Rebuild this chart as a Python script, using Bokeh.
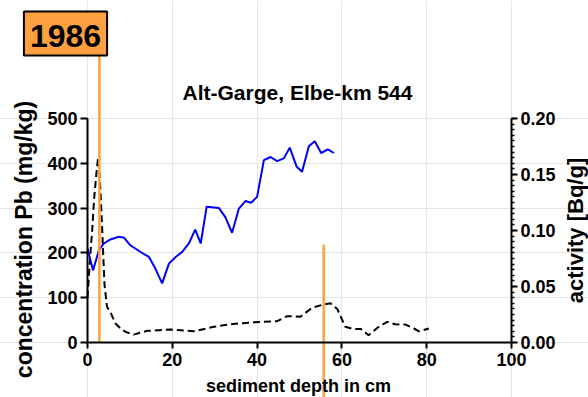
import math
from bokeh.plotting import figure
from bokeh.models import (Range1d, LinearAxis, FixedTicker, SingleIntervalTicker,
                          NumeralTickFormatter, Label)
from bokeh.embed import file_html
from bokeh.resources import INLINE

# ---- data ----
depth_pb = [0, 1.3, 2.7, 3.85, 5.4, 7.4, 8.6, 10.1, 12.5, 14.5,
            16, 17.6, 19.2, 20.8, 22.3, 23.9, 25.4, 26.7, 28.1, 31,
            32.5, 34.1, 35.7, 37.3, 38.6, 40, 41.6, 43.2, 44.7, 46.3,
            47.7, 49.3, 50.6, 52.2, 53.6, 55.1, 56.7, 58.1]
pb = [210, 161, 206, 221, 230, 236, 234, 217, 202, 191,
      165, 132, 176, 191, 202, 221, 252, 221, 303, 300,
      280, 245, 299, 316, 312, 325, 407, 414, 405, 411,
      435, 393, 381, 438, 449, 423, 431, 423]

depth_act = [0, 0.6, 1.1, 1.6, 2.1, 2.5, 3.0, 3.5, 4.0, 4.6,
             5.4, 6.6, 7.8, 9.0, 10.9, 14, 19.6, 25.1, 29.8, 33.7,
             39.2, 44.7, 47.1, 50.2, 53, 55.7, 57.3, 58.9, 60.8, 62.8,
             64.5, 66.3, 68.7, 70.7, 72.6, 75, 77, 78.2, 80.5]
activity = [0.040, 0.075, 0.100, 0.130, 0.151, 0.165, 0.140, 0.098, 0.052, 0.032,
            0.027, 0.017, 0.0125, 0.0095, 0.007, 0.0104, 0.0116, 0.010, 0.014, 0.0163,
            0.018, 0.019, 0.0235, 0.023, 0.031, 0.034, 0.035, 0.030, 0.014, 0.012,
            0.012, 0.0065, 0.014, 0.0184, 0.0163, 0.016, 0.0125, 0.010, 0.0125]

x_ticks = [0, 20, 40, 60, 80, 100]
pb_ticks = [0, 100, 200, 300, 400, 500]

marker_depth = [2.8, 55.7]      # orange marker lines (cm)
marker_top = [640, 219]         # in Pb-axis units
marker_bottom = [0, -125]

year_label = "1986"
title_text = "Alt-Garge, Elbe-km 544"
x_label = "sediment depth in cm"
y_label = "concentration Pb (mg/kg)"
y2_label = "activity [Bq/g]"

FONT = "Liberation Sans"
ORANGE = "#FFA040"

# ---- layout (pixels) ----
W, H = 588, 397
X0_PX, X1_PX = 87, 511      # pixel of depth 0 and 100
Y0_PX, Y1_PX = 342, 118     # pixel of Pb 0 and 500
X_MAX, Y_MAX, A_MAX = 100, 500, 0.2

xs = X_MAX / (X1_PX - X0_PX)
ys = Y_MAX / (Y0_PX - Y1_PX)
as_ = A_MAX / (Y0_PX - Y1_PX)

def dx(px):
    return (px - X0_PX) * xs

def dy(py):
    return (Y0_PX - py) * ys

p = figure(width=W, height=H, output_backend="svg", toolbar_location=None,
           title=None, x_axis_location=None, y_axis_location=None,
           x_range=Range1d(dx(0), dx(W)), y_range=Range1d(dy(H), dy(0)),
           min_border=0, min_border_left=0, min_border_right=0,
           min_border_top=0, min_border_bottom=0)
p.extra_y_ranges = {"act": Range1d(-(H - Y0_PX) * as_, A_MAX + Y1_PX * as_)}
p.outline_line_color = None
p.background_fill_color = "white"
p.border_fill_color = "white"

def style_axis(ax):
    ax.axis_line_width = 2
    ax.axis_line_color = "black"
    ax.major_tick_line_width = 2
    ax.major_tick_line_color = "black"
    ax.major_tick_out = 6
    ax.major_tick_in = 0
    ax.minor_tick_in = 0
    ax.minor_tick_out = 0
    ax.major_label_text_font = FONT
    ax.major_label_text_font_style = "bold"
    ax.major_label_text_font_size = "18px"
    ax.major_label_text_color = "black"

xax = LinearAxis(ticker=FixedTicker(ticks=x_ticks), fixed_location=0, bounds=(0, X_MAX))
style_axis(xax)
xax.major_label_standoff = 4
p.add_layout(xax, "below")

yax = LinearAxis(ticker=FixedTicker(ticks=pb_ticks), fixed_location=0, bounds=(0, Y_MAX))
style_axis(yax)
yax.major_tick_out = 7
yax.major_label_standoff = 3
p.add_layout(yax, "left")

ax2 = LinearAxis(y_range_name="act", fixed_location=X_MAX, bounds=(0, A_MAX),
                 ticker=SingleIntervalTicker(interval=0.05, num_minor_ticks=10),
                 formatter=NumeralTickFormatter(format="0.00"))
style_axis(ax2)
ax2.minor_tick_out = 3
ax2.minor_tick_line_width = 1.5
ax2.minor_tick_line_color = "black"
ax2.major_label_standoff = 3
p.add_layout(ax2, "right")

# data lines
p.line(depth_act, activity, y_range_name="act", line_color="black",
       line_width=2, line_dash="7 4")
p.line(depth_pb, pb, line_color="#0000FF", line_width=2)

# orange marker lines
p.segment(x0=marker_depth, y0=marker_bottom, x1=marker_depth, y1=marker_top,
          line_color=ORANGE, line_width=2.5)

# texts
p.add_layout(Label(x=dx(297), y=dy(92), text=title_text, text_align="center",
                   text_baseline="alphabetic", text_font=FONT, text_font_style="bold",
                   text_font_size="21px", text_color="black"))
p.add_layout(Label(x=dx(298), y=dy(385), text=x_label, text_align="center",
                   text_baseline="alphabetic", text_font=FONT, text_font_style="bold",
                   text_font_size="18px", text_color="black"))
p.add_layout(Label(x=dx(23), y=dy(239), text=y_label, angle=math.pi / 2,
                   text_align="center", text_baseline="middle", text_font=FONT,
                   text_font_style="bold", text_font_size="23px", text_color="black"))
p.add_layout(Label(x=dx(575), y=dy(230), text=y2_label, angle=math.pi / 2,
                   text_align="center", text_baseline="middle", text_font=FONT,
                   text_font_style="bold", text_font_size="22px", text_color="black"))
p.add_layout(Label(x=dx(65), y=dy(33), text=year_label, text_align="center",
                   text_baseline="middle", text_font=FONT, text_font_style="bold",
                   text_font_size="32px", text_color="black",
                   background_fill_color=ORANGE, background_fill_alpha=1.0,
                   border_line_color="black", border_line_width=2,
                   padding=dict(left=6, right=6, top=13, bottom=9)))

open("out.html", "w").write(file_html(p, INLINE))
